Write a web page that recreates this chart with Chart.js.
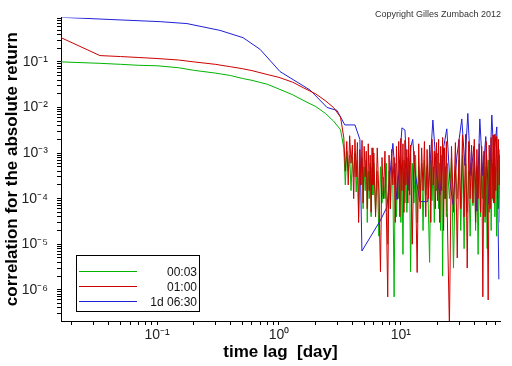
<!DOCTYPE html>
<html>
<head>
<meta charset="utf-8">
<script src="https://cdn.jsdelivr.net/npm/chart.js@4.4.1/dist/chart.umd.min.js"></script>
<style>
    html, body { margin: 0; padding: 0; background: #fff; }
    #corr_chart { display: block; }
</style>
</head>
<body>
<canvas id="corr_chart" width="512" height="366"></canvas>
<script>
// time lags in days, shared by the 00:03 and 01:00 series
const lagDays = [
    0.0163, 0.034, 0.05, 0.07, 0.1, 0.15, 0.2, 0.3, 0.4, 0.5, 0.6, 0.8, 1.0, 1.3, 1.6, 2.0, 2.4, 2.8, 3.2,
    3.4, 3.5, 3.6, 3.7, 3.8, 3.9, 4.0, 4.1, 4.2, 4.3, 4.4, 4.5, 4.6, 4.7, 4.8, 4.9, 5.0, 5.1, 5.2, 5.3, 5.4, 5.5, 5.6, 5.7, 5.8, 5.9,
    6.0, 6.2, 6.4, 6.6, 6.8, 7.0, 7.2, 7.4, 7.6, 7.8, 8.0, 8.2, 8.4, 8.6, 8.8, 9.0, 9.2, 9.4, 9.6, 9.8,
    10.0, 10.2, 10.4, 10.6, 10.8, 11.0, 11.2, 11.4, 11.6, 11.8,
    12.0, 12.4, 12.8, 13.2, 13.6, 14.0, 14.4, 14.8, 15.2, 15.6, 16.0, 16.4, 16.8, 17.2, 17.6,
    18.0, 18.4, 18.8, 19.2, 19.6, 20.0, 20.4, 20.8, 21.2, 21.6, 22.0, 22.4, 22.8, 23.2, 23.6,
    24, 25, 26, 27, 28, 29, 30, 31, 32, 33, 34, 35, 36, 37, 38, 39, 40, 41, 42, 43, 44,
    45, 46, 47, 48, 49, 50, 51, 52, 53, 54, 55, 56, 57, 58, 59, 60, 61, 62, 63, 64, 65
];

const corr0003 = [
    0.1, 0.093, 0.0885, 0.0842, 0.0822, 0.0745, 0.0653, 0.0569, 0.0503, 0.0434, 0.0394, 0.0324, 0.0254, 0.0189, 0.0141, 0.0105, 0.00745, 0.00504, 0.00325,
    1.3e-3, 2e-4, 1.1e-3, 4e-4, 9e-4, 1.5e-4, 8e-4, 3e-4, 1e-3, 1.4e-4, 7e-4, 4e-5, 6e-4, 2e-4, 8e-4, 6e-5, 5e-4, 1.5e-4, 7e-4, 3e-5, 4e-4, 1e-4, 6e-4, 4e-5, 5e-4, 1.2e-4,
    6e-4, 5e-5, 4e-4, 1.5e-5, 5e-4, 8e-5, 3e-4, 1e-4, 6e-4, 1e-5, 4e-4, 6e-5, 5e-4, 2e-4, 7e-7, 6e-4, 4e-5, 3e-4, 1e-4, 7e-4,
    3e-5, 5e-4, 6e-6, 7e-4, 8e-5, 4e-4, 5e-5, 8e-4, 1.5e-4, 5e-4,
    2.5e-6, 6e-4, 8e-5, 9e-4, 3e-5, 5e-4, 1e-4, 6e-4, 2e-5, 7e-4, 1.2e-4, 5e-4, 6e-5, 4e-6, 7e-4,
    9e-5, 5e-4, 3e-5, 8e-4, 1.5e-4, 1e-3, 6e-5, 6e-4, 2e-5, 9e-4, 2e-6, 1.2e-3, 1e-4, 5e-4, 4e-5,
    6e-4, 1e-4, 8e-4, 3e-6, 5e-4, 1e-4, 7e-4, 2e-5, 9e-4, 8e-6, 6e-4, 5e-5, 4e-4, 1.5e-5, 6e-4, 7e-5, 1e-3, 2e-5, 5e-4, 6e-6, 8e-4,
    4e-5, 6e-4, 1e-4, 9e-4, 3e-5, 5e-4, 8e-6, 7e-4, 5e-5, 1e-3, 2e-5, 6e-4, 9e-5, 8e-4, 4e-5, 5e-4, 1.5e-5, 7e-4, 6e-5, 9e-4, 3e-5
];

const corr0100 = [
    0.340, 0.1375, 0.131, 0.125, 0.1186, 0.110, 0.100, 0.0885, 0.0783, 0.0710, 0.0644, 0.0529, 0.0457, 0.0357, 0.0267, 0.0199, 0.0141, 0.0100, 0.00612,
    2.2e-3, 4e-4, 1.8e-3, 2e-4, 2.4e-3, 6e-4, 1.5e-3, 1e-4, 2e-3, 3e-4, 1.7e-3, 3e-5, 1.2e-3, 2e-4, 1.9e-3, 8e-5, 1.4e-3, 3e-4, 1.1e-3, 6e-5, 1.6e-3, 1.5e-4, 9e-4, 5e-5, 1.3e-3, 2e-4,
    1.0e-3, 4e-5, 1.3e-3, 1.2e-4, 2.5e-6, 8e-4, 1e-4, 1.1e-3, 5e-5, 7e-7, 9e-4, 6e-5, 1.2e-3, 2e-4, 8e-4, 3e-5, 1.4e-3, 1e-4, 1.8e-3, 4e-5,
    2.1e-3, 1.5e-4, 1.6e-3, 5e-5, 1.9e-3, 2e-4, 1.2e-3, 8e-5, 2.2e-3, 1.2e-4,
    1.5e-3, 1e-5, 1.1e-3, 2e-4, 2.4e-6, 1.6e-3, 6e-5, 1.3e-3, 1.5e-4, 1.8e-3, 4e-5, 1.2e-3, 1e-4, 1.5e-3, 3e-5,
    2e-3, 2e-4, 1.1e-3, 6e-5, 1.7e-3, 9e-5, 2e-3, 3e-5, 1.4e-3, 1.5e-4, 2.2e-3, 2e-5, 1.3e-3, 1e-4, 1.8e-3,
    5e-5, 1.5e-7, 1.4e-3, 5e-5, 1.7e-3, 5e-6, 2e-3, 6e-5, 2.5e-3, 4e-5, 2.6e-3, 3e-6, 1.8e-3, 1e-4, 1.5e-3, 8e-5, 2e-3, 3e-5, 1.2e-3, 1e-4, 1.6e-3,
    5e-5, 1.4e-3, 7e-7, 1.1e-3, 4e-5, 1.8e-3, 1.2e-4, 6e-7, 1.5e-3, 6e-5, 2.2e-3, 1e-4, 2.5e-3, 8e-5, 2.6e-3, 1.5e-4, 2.3e-3, 1e-4, 2e-3, 2e-4, 1.2e-3
];

// the 1d 06:30 series has its own, sparser lags
const blueLagDays = [
    0.0163, 0.0412, 0.106, 0.176, 0.328, 0.507, 0.699, 1.02, 1.80, 2.48, 2.99, 3.47, 4.20, 4.61, 4.79, 6.73, 7.68, 8.6, 9.27, 10.2,
    10.8, 11.4, 12.1, 12.5, 13.2, 14.3, 16.6, 18.3, 19.7, 20.9, 22.5, 23.8, 25.2, 26.7, 28.8, 31.6, 33.5, 35.4, 37.5, 39.7,
    42.0, 44.4, 47.0, 49.7, 52.6, 55.7, 57.8, 61.2, 63.6
];

const corr1d0630 = [
    0.952, 0.851, 0.763, 0.692, 0.491, 0.340, 0.189, 0.0613, 0.0241, 0.0100, 0.00863, 0.00414, 0.00414, 0.00199, 7.1e-6, 3.2e-5, 6.5e-5, 1.63e-3, 9.5e-5, 3.57e-3,
    3.2e-3, 1.55e-4, 1.4e-3, 2.0e-3, 3.2e-4, 8.6e-5, 8.6e-5, 5.3e-3, 3.2e-4, 1.2e-4, 1.41e-3, 3.4e-3, 2.5e-4, 7.5e-5, 8.6e-4, 5.6e-3, 5.3e-4, 7.4e-3, 3.2e-4, 1.41e-3,
    5.3e-5, 5.6e-3, 3.2e-4, 2.3e-3, 7.5e-5, 6.8e-3, 8.6e-4, 3.75e-3, 1.7e-6
];

const seriesNames = ["00:03", "01:00", "1d 06:30"];
const seriesColors = ["#00b400", "#cc0000", "#2020d8"];

const xTickValues = [0.1, 1, 10];
const xTickLabels = ["10\u207B\u00B9", "10\u2070", "10\u00B9"];
const yTickValues = [1e-1, 1e-2, 1e-3, 1e-4, 1e-5, 1e-6];
const yTickLabels = ["10\u207B\u00B9", "10\u207B\u00B2", "10\u207B\u00B3", "10\u207B\u2074", "10\u207B\u2075", "10\u207B\u2076"];

const xMin = 0.0163, xMax = 65;
const yMin = 2.07e-7, yMax = 0.946;

const tickFont = { family: "'Liberation Sans Narrow', 'Liberation Sans', sans-serif", size: 14 };
const titleFont = { family: "'Liberation Sans', Arial, sans-serif", size: 17, weight: "bold" };

toPoints = (xs, ys) => xs.map((x, i) => ({ x: x, y: ys[i] }));

// minor ticks 1..9 in every decade
decadeTicks = (scale) => {
    const ticks = [];
    const e0 = Math.floor(Math.log10(scale.min));
    const e1 = Math.ceil(Math.log10(scale.max));
    for (let e = e0; e <= e1; e++) {
        for (let m = 1; m < 10; m++) {
            const v = m * Math.pow(10, e);
            if (v >= scale.min && v <= scale.max) ticks.push({ value: v });
        }
    }
    scale.ticks = ticks;
};

labelFor = (values, labels) => (value) => {
    const i = values.findIndex(v => Math.abs(value / v - 1) < 1e-6);
    return i < 0 ? "" : labels[i];
};

// boxed legend in the lower left corner, plus copyright line
const boxLegend = {
    id: "boxLegend",
    afterDatasetsDraw(chart) {
        const ctx = chart.ctx;
        const area = chart.chartArea;
        const left = area.left + 15;
        const top = area.bottom - 66;
        ctx.save();
        ctx.fillStyle = "#fff";
        ctx.fillRect(left, top, 123, 56);
        ctx.strokeStyle = "#000";
        ctx.lineWidth = 1;
        ctx.strokeRect(left + 0.5, top + 0.5, 123, 56);
        ctx.font = "12px 'Liberation Sans', Arial, sans-serif";
        ctx.textAlign = "right";
        ctx.textBaseline = "middle";
        seriesNames.forEach((name, i) => {
            const y = top + 16 + i * 15;
            ctx.strokeStyle = seriesColors[i];
            ctx.beginPath();
            ctx.moveTo(left + 3, y + 0.5);
            ctx.lineTo(left + 61, y + 0.5);
            ctx.stroke();
            ctx.fillStyle = "#111";
            ctx.fillText(name, left + 121, y + 2);
        });
        ctx.font = "9px 'Liberation Sans', Arial, sans-serif";
        ctx.fillStyle = "#333";
        ctx.textBaseline = "alphabetic";
        ctx.fillText("Copyright Gilles Zumbach 2012", area.right + 1, 17);
        ctx.restore();
    }
};

createChart = () => {
    new Chart("corr_chart", {
        type: "line",
        data: {
            datasets: [
                { label: seriesNames[0], data: toPoints(lagDays, corr0003), borderColor: seriesColors[0], order: 2 },
                { label: seriesNames[1], data: toPoints(lagDays, corr0100), borderColor: seriesColors[1], order: 0 },
                { label: seriesNames[2], data: toPoints(blueLagDays, corr1d0630), borderColor: seriesColors[2], order: 1 }
            ]
        },
        options: {
            responsive: false,
            animation: false,
            devicePixelRatio: 1,
            layout: { padding: { top: 7, right: 12, left: 0, bottom: 0 } },
            elements: {
                line: { borderWidth: 1, tension: 0, fill: false },
                point: { radius: 0 }
            },
            plugins: {
                legend: { display: false },
                tooltip: { enabled: false }
            },
            scales: {
                x: {
                    type: "logarithmic",
                    min: xMin,
                    max: xMax,
                    afterBuildTicks: decadeTicks,
                    afterFit: (s) => { s.height = 45; },
                    grid: { drawOnChartArea: false, drawTicks: true, tickLength: 4, color: "#000" },
                    border: { display: true, color: "#000", width: 1 },
                    ticks: {
                        autoSkip: false, maxRotation: 0, minRotation: 0, padding: 2,
                        color: "#222", font: tickFont,
                        callback: labelFor(xTickValues, xTickLabels)
                    },
                    title: { display: true, text: "time lag  [day]", color: "#000", font: titleFont, padding: { top: 0, bottom: 3 } }
                },
                y: {
                    type: "logarithmic",
                    min: yMin,
                    max: yMax,
                    afterBuildTicks: decadeTicks,
                    afterFit: (s) => { s.width = 61; },
                    grid: { drawOnChartArea: false, drawTicks: true, tickLength: 4, color: "#000" },
                    border: { display: true, color: "#000", width: 1 },
                    ticks: {
                        autoSkip: false, padding: 9,
                        color: "#222", font: tickFont,
                        callback: labelFor(yTickValues, yTickLabels)
                    },
                    title: { display: true, text: "correlation for the absolute return", color: "#000", font: titleFont, padding: { top: 2, bottom: 0 } }
                }
            }
        },
        plugins: [boxLegend]
    });
};
createChart();
</script>
</body>
</html>
